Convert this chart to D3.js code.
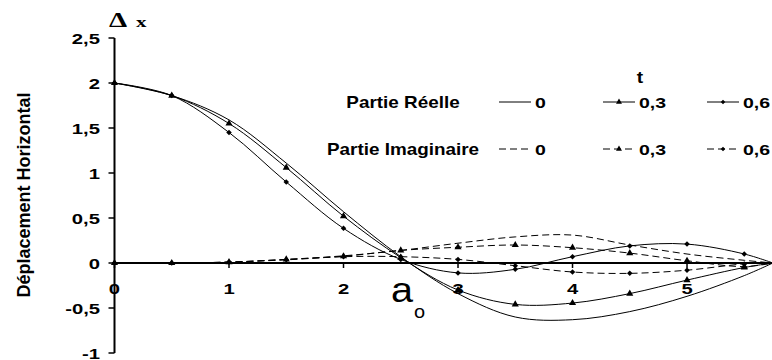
<!DOCTYPE html>
<html>
<head>
<meta charset="utf-8">
<script src="https://cdn.jsdelivr.net/npm/d3@7"></script>
<style>
  html, body { margin: 0; padding: 0; background: #fff; }
  svg { display: block; }
  text { font-family: "Liberation Sans", Arial, sans-serif; fill: #000; }
</style>
</head>
<body>
<svg id="chart" width="772" height="360"></svg>
<script>
// Frequency a0 (sampling abscissa)
const a0 = [0, 0.5, 1, 1.5, 2, 2.5, 3, 3.5, 4, 4.5, 5, 5.5, 5.75];

// Horizontal displacement, real part, for t = 0 / 0.3 / 0.6
const reelT0 = [2, 1.86, 1.59, 1.11, 0.57, 0.07, -0.34, -0.6, -0.63, -0.54, -0.37, -0.14, 0];
const reelT3 = [2, 1.86, 1.55, 1.06, 0.52, 0.06, -0.3, -0.46, -0.445, -0.34, -0.19, -0.05, 0];
const reelT6 = [2, 1.86, 1.45, 0.9, 0.385, 0.04, -0.11, -0.07, 0.07, 0.19, 0.21, 0.1, 0];

// Horizontal displacement, imaginary part, for t = 0 / 0.3 / 0.6
const imagT0 = [0, 0, 0.01, 0.04, 0.08, 0.14, 0.22, 0.29, 0.31, 0.2, 0.1, 0.03, 0];
const imagT3 = [0, 0, 0.01, 0.04, 0.075, 0.14, 0.175, 0.2, 0.17, 0.11, 0.025, -0.04, 0];
const imagT6 = [0, 0, 0.01, 0.035, 0.07, 0.07, 0.04, -0.03, -0.1, -0.115, -0.08, -0.01, 0];

// Axis ticks and legend labels
const yTicks = [-1, -0.5, 0, 0.5, 1, 1.5, 2, 2.5];
const xTicks = [0, 1, 2, 3, 4, 5];
const tLabels = ["0", "0,3", "0,6"];
const partLabels = ["Partie Réelle", "Partie Imaginaire"];
const markerKinds = ["none", "triangle", "diamond"];

const W = 772, H = 360;
const svg = d3.select("#chart");
svg.append("rect").attr("width", W).attr("height", H).attr("fill", "#fff");

const x = d3.scaleLinear().domain([0, 5.75]).range([114.5, 772.9]);
const y = d3.scaleLinear().domain([-1, 2.5]).range([353, 38]);

const fmt = v => String(v).replace(".", ",");

// text helper: horizontally stretched labels
function label(g, tx, ty, str, opts) {
  const o = Object.assign({ size: 14, weight: "bold", anchor: "start", sx: 1, family: null }, opts || {});
  const t = g.append("text")
    .attr("transform", `translate(${tx},${ty}) scale(${o.sx},1)`)
    .attr("text-anchor", o.anchor)
    .attr("font-size", o.size)
    .attr("font-weight", o.weight)
    .text(str);
  if (o.family) t.style("font-family", o.family);
  return t;
}

// ---- axes ----
const axes = svg.append("g");
// y axis
axes.append("line").attr("x1", x(0)).attr("x2", x(0)).attr("y1", y(2.5)).attr("y2", y(-1))
  .attr("stroke", "#000").attr("stroke-width", 2);
yTicks.forEach(v => {
  axes.append("line").attr("x1", x(0) - 6).attr("x2", x(0)).attr("y1", y(v)).attr("y2", y(v))
    .attr("stroke", "#000").attr("stroke-width", 1.5);
  label(axes, 100, y(v) + 5.5, fmt(v), { size: 15, anchor: "end", sx: 1.35 });
});
// x axis along zero
axes.append("line").attr("x1", x(0)).attr("x2", W).attr("y1", y(0)).attr("y2", y(0))
  .attr("stroke", "#000").attr("stroke-width", 2);
xTicks.forEach(v => {
  axes.append("line").attr("x1", x(v)).attr("x2", x(v)).attr("y1", y(0)).attr("y2", y(0) + 5)
    .attr("stroke", "#000").attr("stroke-width", 1.5);
  label(axes, x(v), 293.5, String(v), { size: 15, anchor: "middle", sx: 1.35 });
});

// axis titles
label(svg, 0, 0, "Déplacement Horizontal", { size: 18, anchor: "middle" })
  .attr("transform", "translate(30,195) rotate(-90)");
label(svg, 109, 27, "Δ", { size: 20, anchor: "start", sx: 1.45, family: "'Liberation Serif', serif" });
label(svg, 136, 27, "x", { size: 15, anchor: "start", sx: 1.4, family: "'Liberation Serif', serif" });
label(svg, 391, 302, "a", { size: 36, weight: "normal", sx: 1.1 });
label(svg, 414, 318, "o", { size: 19, weight: "normal", sx: 1.05 });

// ---- series ----
const series = [
  { vals: reelT0, dashed: false, marker: markerKinds[0] },
  { vals: reelT3, dashed: false, marker: markerKinds[1] },
  { vals: reelT6, dashed: false, marker: markerKinds[2] },
  { vals: imagT0, dashed: true, marker: markerKinds[0] },
  { vals: imagT3, dashed: true, marker: markerKinds[1] },
  { vals: imagT6, dashed: true, marker: markerKinds[2] }
];

const line = d3.line()
  .x(d => x(d[0])).y(d => y(d[1]))
  .curve(d3.curveCatmullRom.alpha(0.5));

function drawMarker(g, kind, cx, cy, scale) {
  if (kind === "triangle") {
    g.append("path").attr("d", d3.symbol(d3.symbolTriangle, 22 * scale)())
      .attr("transform", `translate(${cx},${cy})`).attr("fill", "#000");
  } else if (kind === "diamond") {
    g.append("path").attr("d", d3.symbol(d3.symbolSquare, 15 * scale)())
      .attr("transform", `translate(${cx},${cy}) rotate(45)`).attr("fill", "#000");
  }
}

const plot = svg.append("g");
series.forEach(s => {
  const pts = a0.map((v, i) => [v, s.vals[i]]);
  plot.append("path").attr("d", line(pts))
    .attr("fill", "none").attr("stroke", "#000").attr("stroke-width", 1)
    .attr("stroke-dasharray", s.dashed ? "7,4" : null);
  pts.filter(p => x(p[0]) + 3 <= W).forEach(p => drawMarker(plot, s.marker, x(p[0]), y(p[1]), 1));
});

// ---- legend ----
const leg = svg.append("g");
label(leg, 640, 83, "t", { size: 16, anchor: "middle", sx: 1.2 });
const rowY = [102, 149];
const colX = [499, 603, 707];
partLabels.forEach((name, r) => {
  label(leg, 403, rowY[r] + 5.5, name, { size: 16, anchor: "middle", sx: 1.18 });
  tLabels.forEach((t, c) => {
    const s = series[r * 3 + c];
    leg.append("line").attr("x1", colX[c]).attr("x2", colX[c] + 32)
      .attr("y1", rowY[r]).attr("y2", rowY[r])
      .attr("stroke", "#000").attr("stroke-width", 1)
      .attr("stroke-dasharray", s.dashed ? "7,4" : null);
    drawMarker(leg, s.marker, colX[c] + 16, rowY[r], 0.7);
    label(leg, colX[c] + 36, rowY[r] + 5.5, t, { size: 15, sx: 1.3 });
  });
});
</script>
</body>
</html>
